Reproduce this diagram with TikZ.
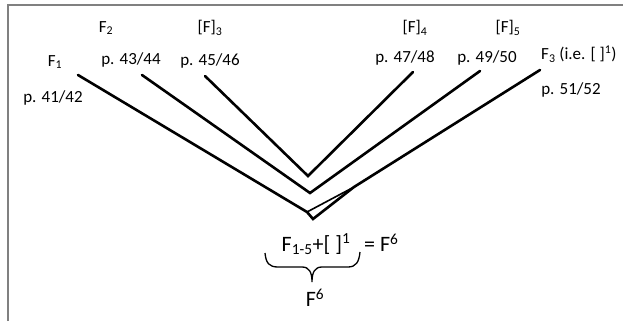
\documentclass[tikz,border=0pt]{standalone}
\usepackage{fontspec}
\setmainfont{Carlito}
\usetikzlibrary{decorations.pathreplacing}
\definecolor{framegray}{RGB}{128,128,128}
\newcommand{\lowidx}[1]{\textsubscript{#1}}

\begin{document}
\begin{tikzpicture}[x=1pt, y=-1pt,
    lbl/.style={font=\fontsize{17}{19}\selectfont, inner sep=0pt},
    big/.style={font=\fontsize{22}{24}\selectfont, inner sep=0pt},
    branch/.style={line width=2.6pt, line cap=round}]
    \useasboundingbox (0,0) rectangle (623,321);

    % Frame (left and top only)
    \draw[framegray, line width=2pt] (7.5,321) -- (7.5,5.5) -- (623,5.5);

    % --- Labels of the gatherings ---
    \node[lbl] (f1)  at (55,62)  {F\lowidx{1}};
    \node[lbl] (p41) at (53,98)  {p. 41/42};
    \node[lbl] (f2)  at (106,28) {F\lowidx{2}};
    \node[lbl] (p43) at (131,60) {p. 43/44};
    \node[lbl] (f3)  at (210,28) {[F]\lowidx{3}};
    \node[lbl] (p45) at (210,61) {p. 45/46};
    \node[lbl] (f4)  at (415,28) {[F]\lowidx{4}};
    \node[lbl] (p47) at (405,58) {p. 47/48};
    \node[lbl] (f5)  at (508,28) {[F]\lowidx{5}};
    \node[lbl] (p49) at (487,58) {p. 49/50};
    \node[lbl, anchor=west] (f6) at (541,54) {F\lowidx{3} (i.e. [~]\textsuperscript{1})};
    \node[lbl] (p51) at (571,90) {p. 51/52};

    % --- Free ends and folds ---
    \coordinate (e1) at (78,75);
    \coordinate (e2) at (142,75);
    \coordinate (e3) at (205,76);
    \coordinate (e4) at (413,72);
    \coordinate (e5) at (480,71);
    \coordinate (e6) at (540,70);
    \coordinate (v1) at (308,176);
    \coordinate (v2) at (310,193);
    \coordinate (v3) at (313,219);
    \coordinate (v3a) at (307,212);
    \coordinate (m) at (354,187);

    % Nested strokes
    \draw[branch] (e1) -- (v3a) -- (v3) -- (m) -- (e6);
    \draw[branch] (e2) -- (v2) -- (e5);
    \draw[branch] (e3) -- (v1) -- (e4);
    \draw[line width=1.6pt] (v3a) -- (m);

    % --- Formula and brace ---
    \node[big] (sum) at (316,244) {F\lowidx{1-5}+[~]\textsuperscript{1}};
    \node[big, anchor=west] (eq) at (364,243) {= F\textsuperscript{6}};
    \draw[line width=1.3pt]
        (265,253) .. controls (266,263) and (269,267) .. (278,267) -- (302,267)
        .. controls (309,267) and (312,272) .. (312,282)
        .. controls (312,272) and (315,267) .. (322,267) -- (348,267)
        .. controls (356,267) and (359,262) .. (360,252);
    \node[big] (total) at (315,298) {F\textsuperscript{6}};
\end{tikzpicture}
\end{document}
